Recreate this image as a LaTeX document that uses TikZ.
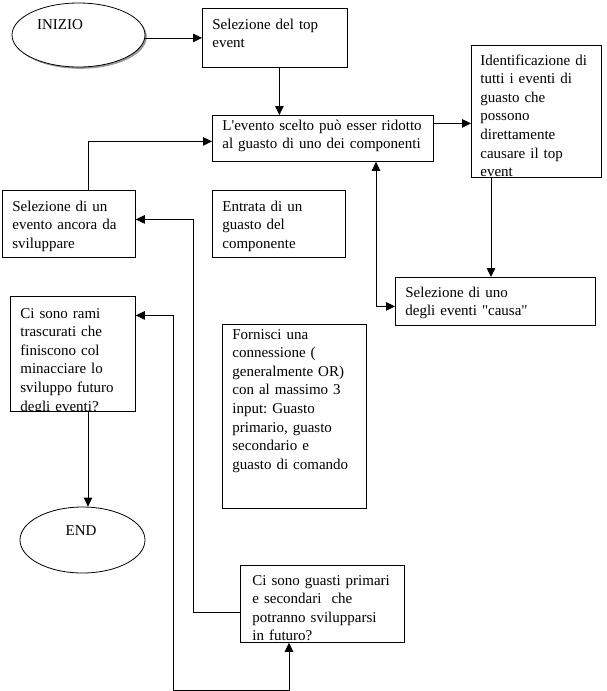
\documentclass[tikz,border=0pt]{standalone}
\usepackage{fontspec}
\setmainfont{Liberation Serif}
\usepackage{tikz}
\usetikzlibrary{
	positioning,    % posizionamento dei nodi
	arrows.meta,    % punte di freccia
	calc,           % coordinate calcolate
	shapes.geometric, % ellissi
	shadows         % ombra dell'ellisse iniziale
}
\frenchspacing

\begin{document}
\begin{tikzpicture}[
	x=1pt, y=-1pt,
	line width=0.8pt,
	freccia/.style={-{Triangle[length=9pt, width=8.5pt]}},
	freccia2/.style={{Triangle[length=9pt, width=8.5pt]}-{Triangle[length=9pt, width=8.5pt]}},
	blocco/.style={draw, fill=white, anchor=north west, inner sep=0pt},
	testo/.style={anchor=base west, inner sep=0pt, text width=215pt, align=left,
		font=\fontsize{15}{18.6}\selectfont},
	ovale/.style={draw, fill=white, ellipse, inner sep=0pt}
	]
	
	% --- Sfondo e dimensioni ---
	\fill[white] (0,0) rectangle (606,691);
	\useasboundingbox (0,0) rectangle (606,691);
	
	% --- Inizio e fine ---
	\node[ovale, minimum width=133pt, minimum height=64pt,
		drop shadow={shadow xshift=1.8pt, shadow yshift=-1.8pt, fill=gray!80, opacity=1}] (inizio) at (78.5,35) {};
	\node[testo, anchor=center, text width=] (inizio-t) at (60,25) {INIZIO};
	\node[ovale, minimum width=125pt, minimum height=66pt] (fine) at (82.5,540) {};
	\node[testo, anchor=center, text width=] (fine-t) at (81,531) {END};
	
	% --- Blocchi ---
	\node[blocco, minimum width=145pt, minimum height=59pt] (top) at (202,8) {};
	\node[testo] (top-t) at ($(top.north west)+(10,21)$) {Selezione del top\\event};
	
	\node[blocco, minimum width=221pt, minimum height=46pt] (scelto) at (212,115) {};
	\node[testo] (scelto-t) at ($(scelto.north west)+(10,15)$)
		{\makebox[200pt][s]{L\textquotesingle evento scelto può esser ridotto}\\al guasto di uno dei componenti};
	
	\node[blocco, minimum width=130pt, minimum height=132pt] (ident) at (471,45) {};
	\begin{scope}
		\clip (ident.north west) rectangle (ident.south east);
		\node[testo] (ident-t) at ($(ident.north west)+(9,20)$)
			{Identificazione di\\tutti i eventi di\\guasto che\\possono\\direttamente\\causare il top\\event};
	\end{scope}
	
	\node[blocco, minimum width=200pt, minimum height=48pt] (causa) at (395,277) {};
	\node[testo] (causa-t) at ($(causa.north west)+(10,20)$)
		{Selezione di uno\\degli eventi \textquotedbl causa\textquotedbl};
	
	\node[blocco, minimum width=133pt, minimum height=67pt] (sviluppo) at (2,190) {};
	\node[testo] (sviluppo-t) at ($(sviluppo.north west)+(10,21)$) {Selezione di un\\evento ancora da\\sviluppare};
	
	\node[blocco, minimum width=133pt, minimum height=67pt] (entrata) at (212,190) {};
	\node[testo] (entrata-t) at ($(entrata.north west)+(10,21)$) {Entrata di un\\guasto del\\componente};
	
	\node[blocco, minimum width=125pt, minimum height=115pt] (rami) at (10,296) {};
	\begin{scope}
		\clip (rami.north west) rectangle (rami.south east);
		\node[testo] (rami-t) at ($(rami.north west)+(10,22)$)
			{Ci sono rami\\trascurati che\\finiscono col\\minacciare lo\\sviluppo futuro\\degli eventi?};
	\end{scope}
	
	\node[blocco, minimum width=144pt, minimum height=184pt] (fornisci) at (222,324) {};
	\node[testo] (fornisci-t) at ($(fornisci.north west)+(10,15)$)
		{Fornisci una\\connessione (\\generalmente OR)\\con al massimo 3\\input: Guasto\\primario, guasto\\secondario e\\guasto di comando};
	
	\node[blocco, minimum width=164pt, minimum height=77pt] (guasti) at (240,565) {};
	\node[testo] (guasti-t) at ($(guasti.north west)+(12,20)$)
		{Ci sono guasti primari\\e secondari \ che\\potranno svilupparsi\\in futuro?};
	
	% --- Frecce ---
	\draw[freccia] (top.west -| inizio.east) -- (top.west);
	\draw[freccia] ([xshift=4.5pt]top.south) -- ([xshift=4.5pt]top.south |- scelto.north);
	\draw[freccia] ([yshift=15pt]scelto.east) -- ([yshift=15pt]scelto.east -| ident.west);
	\draw[freccia] ([xshift=20pt]ident.south west) -- ([xshift=20pt]ident.south west |- causa.north);
	\draw[freccia2] ([xshift=164pt]scelto.south west) |- ([yshift=-5pt]causa.west);
	\draw[freccia] ([xshift=86pt]sviluppo.north west) |- ([yshift=-3pt]scelto.west);
	\draw[freccia] ([yshift=-8.5pt]guasti.west) -- ++(-47,0) |- ([yshift=4.5pt]sviluppo.east);
	\draw[freccia2] ([yshift=38.5pt]rami.east) -- ++(38,0) -- ++(0,375) -| ([xshift=49pt]guasti.south west);
	\draw[freccia] ([xshift=78pt]rami.south west) -- ([xshift=78pt]rami.south west |- fine.north);
	
\end{tikzpicture}
\end{document}
